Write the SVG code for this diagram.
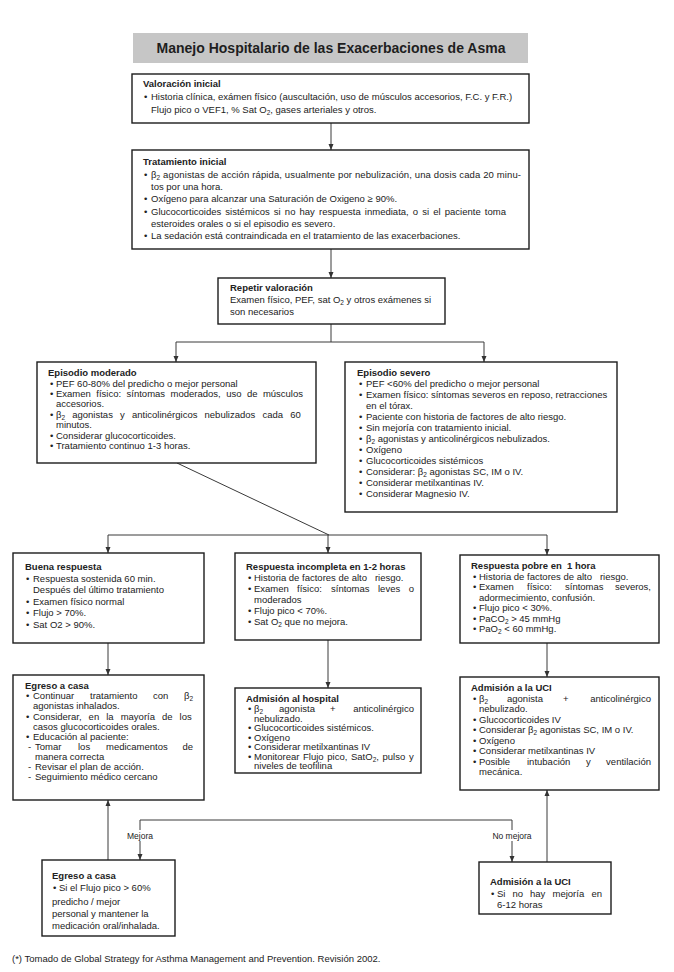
<svg xmlns="http://www.w3.org/2000/svg" width="674" height="972" viewBox="0 0 674 972">
<defs>
<style>
.bx{fill:#fff;stroke:#1c1c1c;stroke-width:1.4}
.t{font-family:"Liberation Sans",Arial,sans-serif;font-size:9.5px;fill:#222}
.b{font-weight:bold}
.s{font-size:6.5px;baseline-shift:-1.8px}
.c{fill:none;stroke:#3a3a3a;stroke-width:1}
.lb{font-family:"Liberation Sans",Arial,sans-serif;font-size:8.5px;fill:#222;text-anchor:middle}
</style>
<marker id="ah" viewBox="0 0 6 6" refX="6" refY="3" markerWidth="6" markerHeight="6" markerUnits="userSpaceOnUse" orient="auto"><path d="M0,0.5 L6,3 L0,5.5 z" fill="#333"/></marker>
</defs>
<rect width="674" height="972" fill="#fff"/>

<g id="title">
<rect x="133" y="33" width="395" height="30" fill="#c6c6c6"/>
<text x="331" y="53" text-anchor="middle" font-family="'Liberation Sans',Arial,sans-serif" font-size="14" font-weight="bold" fill="#1e1e1e">Manejo Hospitalario de las Exacerbaciones de Asma</text>
</g>

<g id="connectors">
<path class="c" d="M331,123 V150" marker-end="url(#ah)"/>
<path class="c" d="M331,249 V278" marker-end="url(#ah)"/>
<path class="c" d="M331,324 V342 H176 V362" marker-end="url(#ah)"/>
<path class="c" d="M331,342 H484 V362" marker-end="url(#ah)"/>
<path class="c" d="M177,463 L329,535"/>
<path class="c" d="M108,535 H547"/>
<path class="c" d="M108,535 V553" marker-end="url(#ah)"/>
<path class="c" d="M328,535 V553" marker-end="url(#ah)"/>
<path class="c" d="M547,535 V555" marker-end="url(#ah)"/>
<path class="c" d="M108,643 V675" marker-end="url(#ah)"/>
<path class="c" d="M328,640 V688" marker-end="url(#ah)"/>
<path class="c" d="M547,643 V677" marker-end="url(#ah)"/>
<path class="c" d="M108,860 V800" marker-end="url(#ah)"/>
<path class="c" d="M547,862 V790" marker-end="url(#ah)"/>
<path class="c" d="M140,820 H512 V862" marker-end="url(#ah)"/>
<path class="c" d="M140,820 V860" marker-end="url(#ah)"/>
<rect x="121" y="830" width="38" height="11" fill="#fff"/>
<text class="lb" x="140" y="838.5">Mejora</text>
<rect x="489" y="830" width="46" height="11" fill="#fff"/>
<text class="lb" x="512" y="838.5">No mejora</text>
</g>

<g id="valoracion">
<rect class="bx" x="132" y="74" width="397" height="49"/>
<text class="t b" x="143" y="87">Valoración inicial</text>
<text class="t" y="100"><tspan x="144">•</tspan><tspan x="151">Historia clínica, exámen físico (auscultación, uso de músculos accesorios, F.C. y F.R.)</tspan></text>
<text class="t" x="151" y="113">Flujo pico o VEF1, % Sat O<tspan class="s">2</tspan>, gases arteriales y otros.</text>
</g>

<g id="tratamiento">
<rect class="bx" x="132" y="150" width="397" height="99"/>
<text class="t b" x="143" y="165">Tratamiento inicial</text>
<text class="t" x="144" y="177.5">•</text>
<text class="t" x="151" y="177.5" textLength="370" lengthAdjust="spacing">β<tspan class="s">2</tspan> agonistas de acción rápida, usualmente por nebulización, una dosis cada 20 minu-</text>
<text class="t" x="151" y="189.5">tos por una hora.</text>
<text class="t" y="202"><tspan x="144">•</tspan><tspan x="151">Oxígeno para alcanzar una Saturación de Oxigeno ≥ 90%.</tspan></text>
<text class="t" x="144" y="214.5">•</text>
<text class="t" x="151" y="214.5" word-spacing="1.5">Glucocorticoides sistémicos si no hay respuesta inmediata, o si el paciente toma</text>
<text class="t" x="151" y="226.5">esteroides orales o si el episodio es severo.</text>
<text class="t" y="239"><tspan x="144">•</tspan><tspan x="151">La sedación está contraindicada en el tratamiento de las exacerbaciones.</tspan></text>
</g>

<g id="repetir">
<rect class="bx" x="218" y="278" width="227" height="46"/>
<text class="t b" x="230" y="291">Repetir valoración</text>
<text class="t" x="230" y="303">Examen físico, PEF, sat O<tspan class="s">2</tspan> y otros exámenes si</text>
<text class="t" x="230" y="315">son necesarios</text>
</g>

<g id="moderado">
<rect class="bx" x="37" y="362" width="279" height="101"/>
<text class="t b" x="48" y="376">Episodio moderado</text>
<text class="t" y="386.5"><tspan x="50">•</tspan><tspan x="56">PEF 60-80% del predicho o mejor personal</tspan></text>
<text class="t" x="50" y="397">•</text>
<text class="t" x="56" y="397" word-spacing="2.8">Examen físico: síntomas moderados, uso de músculos</text>
<text class="t" x="56" y="407">accesorios.</text>
<text class="t" x="50" y="417.5">•</text>
<text class="t" x="56" y="417.5" word-spacing="4.5">β<tspan class="s">2</tspan> agonistas y anticolinérgicos nebulizados cada 60</text>
<text class="t" x="56" y="428">minutos.</text>
<text class="t" y="438.5"><tspan x="50">•</tspan><tspan x="56">Considerar glucocorticoides.</tspan></text>
<text class="t" y="449"><tspan x="50">•</tspan><tspan x="56">Tratamiento continuo 1-3 horas.</tspan></text>
</g>

<g id="severo">
<rect class="bx" x="345" y="362" width="272" height="150"/>
<text class="t b" x="357" y="376">Episodio severo</text>
<text class="t" y="387"><tspan x="359">•</tspan><tspan x="366">PEF &lt;60% del predicho o mejor personal</tspan></text>
<text class="t" y="398"><tspan x="359">•</tspan><tspan x="366">Examen físico: síntomas severos en reposo, retracciones</tspan></text>
<text class="t" x="366" y="409">en el tórax.</text>
<text class="t" y="420"><tspan x="359">•</tspan><tspan x="366">Paciente con historia de factores de alto riesgo.</tspan></text>
<text class="t" y="431"><tspan x="359">•</tspan><tspan x="366">Sin mejoría con tratamiento inicial.</tspan></text>
<text class="t" y="442"><tspan x="359">•</tspan><tspan x="366">β<tspan class="s">2</tspan> agonistas y anticolinérgicos nebulizados.</tspan></text>
<text class="t" y="453"><tspan x="359">•</tspan><tspan x="366">Oxígeno</tspan></text>
<text class="t" y="464"><tspan x="359">•</tspan><tspan x="366">Glucocorticoides sistémicos</tspan></text>
<text class="t" y="475"><tspan x="359">•</tspan><tspan x="366">Considerar: β<tspan class="s">2</tspan> agonistas SC, IM o IV.</tspan></text>
<text class="t" y="486"><tspan x="359">•</tspan><tspan x="366">Considerar metilxantinas IV.</tspan></text>
<text class="t" y="497"><tspan x="359">•</tspan><tspan x="366">Considerar Magnesio IV.</tspan></text>
</g>

<g id="buena">
<rect class="bx" x="13" y="553" width="191" height="90"/>
<text class="t b" x="25" y="570">Buena respuesta</text>
<text class="t" y="581.5"><tspan x="26">•</tspan><tspan x="33">Respuesta sostenida 60 min.</tspan></text>
<text class="t" x="33" y="593">Después del último tratamiento</text>
<text class="t" y="604.5"><tspan x="26">•</tspan><tspan x="33">Examen físico normal</tspan></text>
<text class="t" y="616"><tspan x="26">•</tspan><tspan x="33">Flujo &gt; 70%.</tspan></text>
<text class="t" y="627.5"><tspan x="26">•</tspan><tspan x="33">Sat O2 &gt; 90%.</tspan></text>
</g>

<g id="egreso1">
<rect class="bx" x="13" y="675" width="191" height="125"/>
<text class="t b" x="25" y="688.5">Egreso a casa</text>
<text class="t" y="698.5"><tspan x="26">•</tspan><tspan x="33">Continuar</tspan><tspan x="90">tratamiento</tspan><tspan x="153">con</tspan><tspan x="184">β</tspan><tspan class="s">2</tspan></text>
<text class="t" x="33" y="708.5">agonistas inhalados.</text>
<text class="t" x="26" y="719.5">•</text>
<text class="t" x="33" y="719.5" word-spacing="4.4">Considerar, en la mayoría de los</text>
<text class="t" x="33" y="729.5">casos glucocorticoides orales.</text>
<text class="t" y="740"><tspan x="26">•</tspan><tspan x="33">Educación al paciente:</tspan></text>
<text class="t" y="750"><tspan x="28">-</tspan><tspan x="35">Tomar</tspan><tspan x="78">los</tspan><tspan x="106">medicamentos</tspan><tspan x="193" text-anchor="end">de</tspan></text>
<text class="t" x="35" y="760">manera correcta</text>
<text class="t" y="770"><tspan x="28">-</tspan><tspan x="35">Revisar el plan de acción.</tspan></text>
<text class="t" y="780"><tspan x="28">-</tspan><tspan x="35">Seguimiento médico cercano</tspan></text>
</g>

<g id="incompleta">
<rect class="bx" x="235" y="553" width="186" height="87"/>
<text class="t b" x="246" y="570">Respuesta incompleta en 1-2 horas</text>
<text class="t" y="581" xml:space="preserve"><tspan x="248">•</tspan><tspan x="254">Historia de factores de alto   riesgo.</tspan></text>
<text class="t" y="592"><tspan x="248">•</tspan><tspan x="254">Examen</tspan><tspan x="297">físico:</tspan><tspan x="331">síntomas</tspan><tspan x="378">leves</tspan><tspan x="414" text-anchor="end">o</tspan></text>
<text class="t" x="254" y="603">moderados</text>
<text class="t" y="614"><tspan x="248">•</tspan><tspan x="254">Flujo pico &lt; 70%.</tspan></text>
<text class="t" y="625"><tspan x="248">•</tspan><tspan x="254">Sat O<tspan class="s">2</tspan> que no mejora.</tspan></text>
</g>

<g id="admision-hospital">
<rect class="bx" x="235" y="688" width="186" height="85"/>
<text class="t b" x="246" y="701.5">Admisión al hospital</text>
<text class="t" y="711.5"><tspan x="248">•</tspan><tspan x="254">β</tspan><tspan class="s">2</tspan><tspan x="279">agonista</tspan><tspan x="330">+</tspan><tspan x="414" text-anchor="end">anticolinérgico</tspan></text>
<text class="t" x="254" y="721.5">nebulizado.</text>
<text class="t" y="731"><tspan x="248">•</tspan><tspan x="254">Glucocorticoides sistémicos.</tspan></text>
<text class="t" y="740.5"><tspan x="248">•</tspan><tspan x="254">Oxígeno</tspan></text>
<text class="t" y="750"><tspan x="248">•</tspan><tspan x="254">Considerar metilxantinas IV</tspan></text>
<text class="t" x="248" y="759.5">•</text>
<text class="t" x="254" y="759.5" word-spacing="1">Monitorear Flujo pico, SatO<tspan class="s">2</tspan>, pulso y</text>
<text class="t" x="254" y="769">niveles de teofilina</text>
</g>

<g id="pobre">
<rect class="bx" x="460" y="555" width="199" height="88"/>
<text class="t b" x="471" y="569" xml:space="preserve">Respuesta pobre en  1 hora</text>
<text class="t" y="579.5" xml:space="preserve"><tspan x="473">•</tspan><tspan x="479">Historia de factores de alto   riesgo.</tspan></text>
<text class="t" y="590"><tspan x="473">•</tspan><tspan x="479">Examen</tspan><tspan x="527">físico:</tspan><tspan x="565">síntomas</tspan><tspan x="651" text-anchor="end">severos,</tspan></text>
<text class="t" x="479" y="600.5">adormecimiento, confusión.</text>
<text class="t" y="611"><tspan x="473">•</tspan><tspan x="479">Flujo pico &lt; 30%.</tspan></text>
<text class="t" y="621.5"><tspan x="473">•</tspan><tspan x="479">PaCO<tspan class="s">2</tspan> &gt; 45 mmHg</tspan></text>
<text class="t" y="632"><tspan x="473">•</tspan><tspan x="479">PaO<tspan class="s">2</tspan> &lt; 60 mmHg.</tspan></text>
</g>

<g id="uci">
<rect class="bx" x="460" y="677" width="199" height="113"/>
<text class="t b" x="471" y="691">Admisión a la UCI</text>
<text class="t" y="701.5"><tspan x="473">•</tspan><tspan x="479">β</tspan><tspan class="s">2</tspan><tspan x="507">agonista</tspan><tspan x="563">+</tspan><tspan x="651" text-anchor="end">anticolinérgico</tspan></text>
<text class="t" x="479" y="712">nebulizado.</text>
<text class="t" y="722.5"><tspan x="473">•</tspan><tspan x="479">Glucocorticoides IV</tspan></text>
<text class="t" y="733"><tspan x="473">•</tspan><tspan x="479">Considerar β<tspan class="s">2</tspan> agonistas SC, IM o IV.</tspan></text>
<text class="t" y="743.5"><tspan x="473">•</tspan><tspan x="479">Oxígeno</tspan></text>
<text class="t" y="754"><tspan x="473">•</tspan><tspan x="479">Considerar metilxantinas IV</tspan></text>
<text class="t" y="764.5"><tspan x="473">•</tspan><tspan x="479">Posible</tspan><tspan x="527">intubación</tspan><tspan x="586">y</tspan><tspan x="651" text-anchor="end">ventilación</tspan></text>
<text class="t" x="479" y="775">mecánica.</text>
</g>

<g id="egreso2">
<rect class="bx" x="42" y="860" width="133" height="76"/>
<text class="t b" x="52" y="879">Egreso a casa</text>
<text class="t" y="891"><tspan x="53">•</tspan><tspan x="59">Si el Flujo pico &gt; 60%</tspan></text>
<text class="t" x="52" y="904.5">predicho / mejor</text>
<text class="t" x="52" y="916.5">personal y mantener la</text>
<text class="t" x="52" y="928.5">medicación oral/inhalada.</text>
</g>

<g id="uci2">
<rect class="bx" x="479" y="862" width="132" height="52"/>
<text class="t b" x="490" y="885">Admisión a la UCI</text>
<text class="t" y="897"><tspan x="491">•</tspan><tspan x="497">Si</tspan><tspan x="512.5">no</tspan><tspan x="530">hay</tspan><tspan x="552.5">mejoría</tspan><tspan x="602" text-anchor="end">en</tspan></text>
<text class="t" x="497" y="908">6-12 horas</text>
</g>

<g id="footnote">
<text class="t" x="12" y="962">(*) Tomado de Global Strategy for Asthma Management and Prevention. Revisión 2002.</text>
</g>
</svg>
